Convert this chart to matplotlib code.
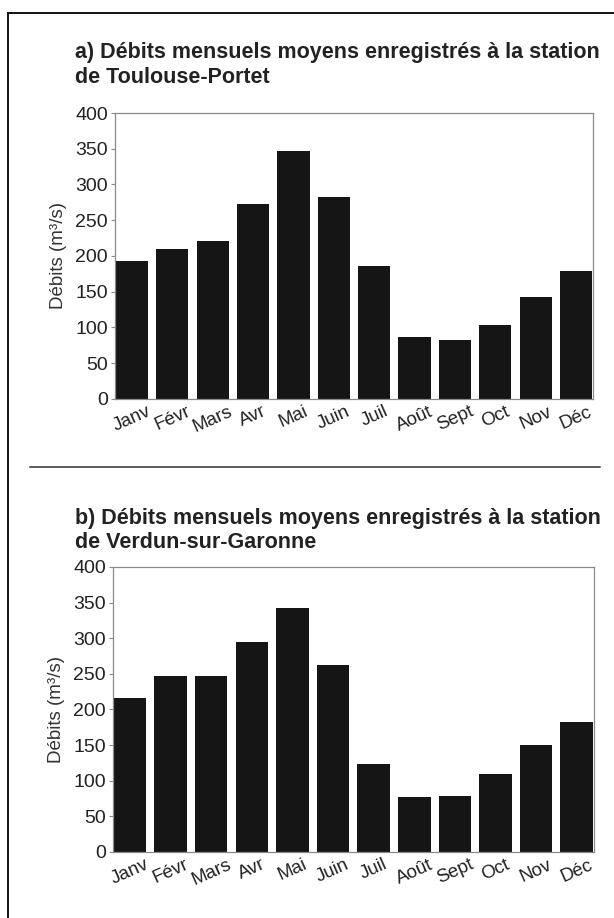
import matplotlib
matplotlib.use("Agg")
import matplotlib.pyplot as plt
from matplotlib.lines import Line2D

plt.rcParams['font.family'] = ['Liberation Sans', 'DejaVu Sans']

# Data
mois = ["Janv", "Févr", "Mars", "Avr", "Mai", "Juin",
        "Juil", "Août", "Sept", "Oct", "Nov", "Déc"]
debits_toulouse = [193, 210, 221, 273, 347, 282, 186, 87, 82, 104, 143, 179]
debits_verdun = [216, 247, 247, 294, 342, 262, 123, 77, 78, 109, 150, 182]
yticks = [0, 50, 100, 150, 200, 250, 300, 350, 400]

titre_a = ["a) Débits mensuels moyens enregistrés à la station",
           "de Toulouse-Portet"]
titre_b = ["b) Débits mensuels moyens enregistrés à la station",
           "de Verdun-sur-Garonne"]

bar_color = "#151515"
text_color = "#222222"
spine_color = "#8a8a8a"

fig = plt.figure(figsize=(6.14, 9.18), dpi=100)


def draw_panel(rect, values):
    ax = fig.add_axes(rect)
    x = range(len(mois))
    ax.bar(x, values, width=0.8, color=bar_color)
    ax.set_xlim(-0.42, len(mois) - 0.58)
    ax.set_ylim(0, 400)
    ax.set_yticks(yticks)
    ax.set_xticks(list(x))
    ax.set_xticklabels(mois, rotation=24, ha="center")
    ax.tick_params(axis="y", length=3, color=spine_color, labelsize=14,
                   labelcolor=text_color, pad=2)
    ax.tick_params(axis="x", length=0, labelsize=13.5,
                   labelcolor=text_color, pad=3)
    for s in ax.spines.values():
        s.set_color(spine_color)
        s.set_linewidth(0.9)
    ax.set_ylabel("Débits (m³/s)", fontsize=13.5, color="#333333", labelpad=6)
    return ax


draw_panel([0.1873, 0.5654, 0.7785, 0.3115], debits_toulouse)
draw_panel([0.1840, 0.0719, 0.7830, 0.3105], debits_verdun)

# titles
fig.text(0.122, 0.9368, titre_a[0], fontsize=15.5, fontweight="bold", color=text_color)
fig.text(0.122, 0.9095, titre_a[1], fontsize=15.5, fontweight="bold", color=text_color)
fig.text(0.122, 0.4292, titre_b[0], fontsize=15.5, fontweight="bold", color=text_color)
fig.text(0.122, 0.4030, titre_b[1], fontsize=15.5, fontweight="bold", color=text_color)

# frame and separator
fig.add_artist(Line2D([0.013, 0.013], [0.0, 0.986], color="#111111", lw=1.4))
fig.add_artist(Line2D([0.013, 1.0], [0.986, 0.986], color="#111111", lw=1.4))
fig.add_artist(Line2D([0.049, 0.977], [0.4913, 0.4913], color="#333333", lw=1.1))

fig.savefig("out.png", dpi=100)
